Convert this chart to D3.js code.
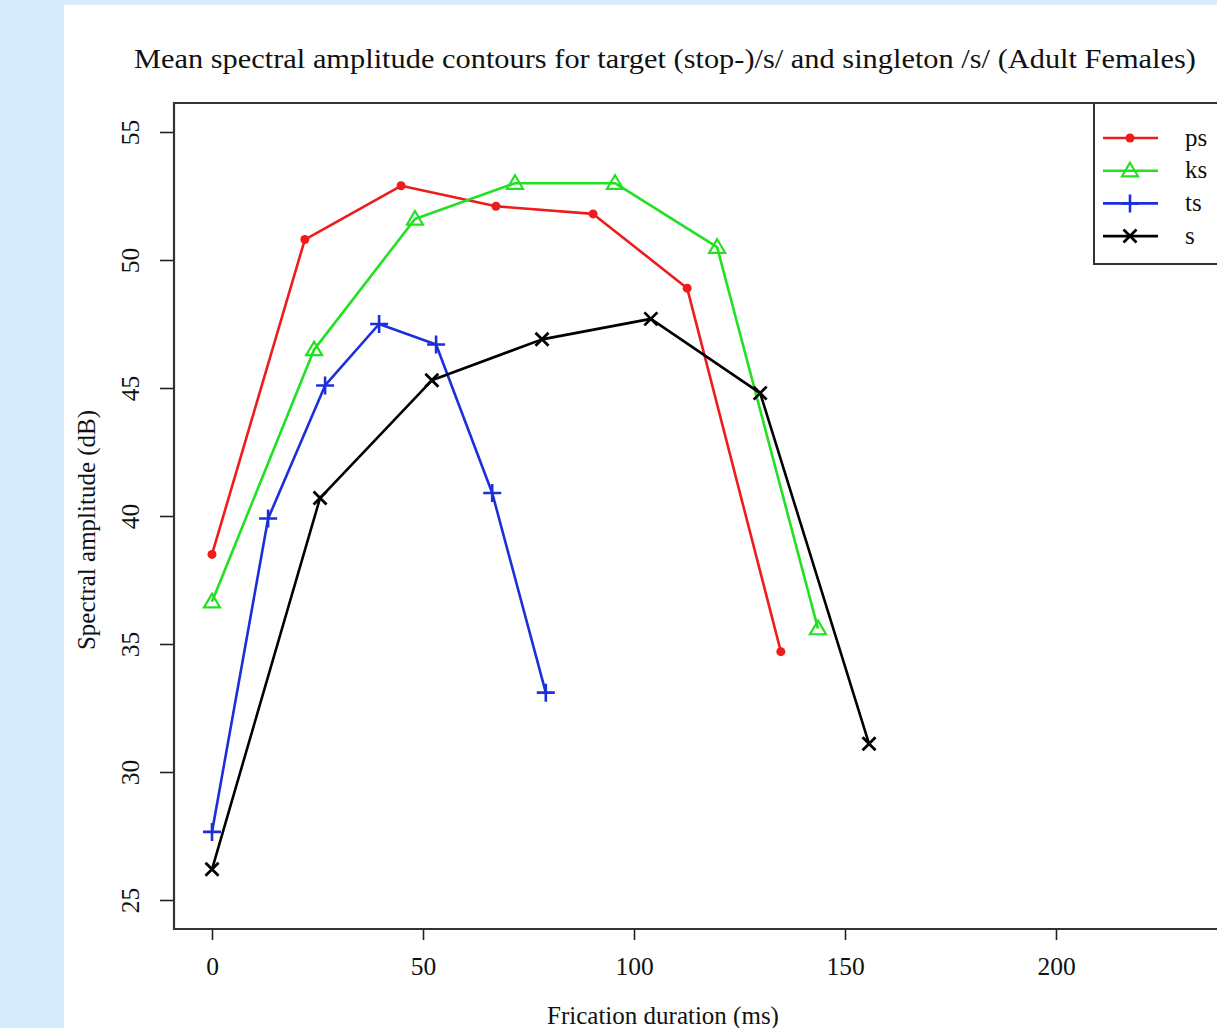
<!DOCTYPE html>
<html>
<head>
<meta charset="utf-8">
<script src="https://cdn.jsdelivr.net/npm/d3@7/dist/d3.min.js"></script>
<style>
  html, body { margin: 0; padding: 0; background: #d7ecfb; }
  svg { display: block; }
  text { font-family: "Liberation Serif", "DejaVu Serif", serif; fill: #111; }
</style>
</head>
<body>
<svg id="chart" width="1217" height="1028"></svg>
<script>
// Frication duration (ms) and mean spectral amplitude (dB) per cluster type
const seriesNames = ["ps", "ks", "ts", "s"];
const psDur = [0, 22, 44.8, 67.3, 90.3, 112.6, 134.8];
const psAmp = [38.5, 50.8, 52.9, 52.1, 51.8, 48.9, 34.7];
const ksDur = [0, 24.2, 48.1, 71.8, 95.5, 119.7, 143.6];
const ksAmp = [36.65, 46.5, 51.6, 53.0, 53.0, 50.5, 35.6];
const tsDur = [0, 13.3, 26.8, 39.6, 53.1, 66.4, 79.1];
const tsAmp = [27.66, 39.9, 45.1, 47.5, 46.7, 40.9, 33.1];
const sDur = [0, 25.6, 52.1, 78.2, 104, 129.9, 155.7];
const sAmp = [26.2, 40.7, 45.3, 46.9, 47.7, 44.8, 31.1];
const xTicks = [0, 50, 100, 150, 200];
const yTicks = [25, 30, 35, 40, 45, 50, 55];

const titleText = "Mean spectral amplitude contours for target (stop-)/s/ and singleton /s/ (Adult Females)";
const xLabel = "Frication duration (ms)";
const yLabel = "Spectral amplitude (dB)";

const series = [
  { name: "ps", color: "#ee1c1c", marker: "dot", dur: psDur, amp: psAmp },
  { name: "ks", color: "#22e022", marker: "triangle", dur: ksDur, amp: ksAmp },
  { name: "ts", color: "#1c2fd8", marker: "plus", dur: tsDur, amp: tsAmp },
  { name: "s", color: "#000000", marker: "cross", dur: sDur, amp: sAmp }
];

const svg = d3.select("#chart");

// white panel
svg.append("rect").attr("x", 64).attr("y", 5).attr("width", 1217 - 64).attr("height", 1028 - 5).attr("fill", "#ffffff");

const box = { left: 174, top: 103, right: 1240, bottom: 929 };

const x = d3.scaleLinear().domain([0, 200]).range([212, 1056]);
const y = d3.scaleLinear().domain([25, 55]).range([900, 132]);

// title
svg.append("text")
  .attr("x", 665).attr("y", 68)
  .attr("text-anchor", "middle")
  .attr("font-size", 26.5)
  .attr("textLength", 1062).attr("lengthAdjust", "spacingAndGlyphs")
  .text(titleText);

// axes
const xAxis = svg.append("g").attr("transform", `translate(0,${box.bottom})`)
  .call(d3.axisBottom(x).tickValues(xTicks).tickSize(11).tickPadding(17).tickFormat(d3.format("d")));
const yAxis = svg.append("g").attr("transform", `translate(${box.left},0)`)
  .call(d3.axisLeft(y).tickValues(yTicks).tickSize(14).tickPadding(6).tickFormat(d3.format("d")));
[xAxis, yAxis].forEach(g => {
  g.select(".domain").remove();
  g.selectAll(".tick line").attr("stroke", "#222").attr("stroke-width", 1.6);
  g.selectAll(".tick text").attr("font-size", 25.5).attr("font-family", "Liberation Serif, serif").attr("fill", "#111");
});
xAxis.selectAll(".tick text").attr("dy", "0.71em");
yAxis.selectAll(".tick text")
  .attr("text-anchor", "middle")
  .attr("transform", `translate(-44,0) rotate(-90)`)
  .attr("x", 0).attr("dy", "0.35em");

// frame
svg.append("path")
  .attr("d", `M${box.right},${box.top}H${box.left}V${box.bottom}H${box.right}`)
  .attr("fill", "none").attr("stroke", "#333").attr("stroke-width", 2.2);

// axis titles
svg.append("text").attr("x", 663).attr("y", 1024)
  .attr("text-anchor", "middle").attr("font-size", 25).text(xLabel);
svg.append("text")
  .attr("transform", `translate(95,530) rotate(-90)`)
  .attr("text-anchor", "middle").attr("font-size", 25).text(yLabel);

// markers
function drawMarker(g, type, cx, cy, color) {
  if (type === "dot") {
    g.append("circle").attr("cx", cx).attr("cy", cy).attr("r", 4.5).attr("fill", color);
  } else if (type === "triangle") {
    const s = 8;
    g.append("path")
      .attr("d", `M${cx},${cy - s}L${cx + s},${cy + s * 0.7}L${cx - s},${cy + s * 0.7}Z`)
      .attr("fill", "none").attr("stroke", color).attr("stroke-width", 2.2);
  } else if (type === "plus") {
    const s = 9;
    g.append("path").attr("d", `M${cx - s},${cy}H${cx + s}M${cx},${cy - s}V${cy + s}`)
      .attr("stroke", color).attr("stroke-width", 2.6);
  } else if (type === "cross") {
    const s = 6.5;
    g.append("path").attr("d", `M${cx - s},${cy - s}L${cx + s},${cy + s}M${cx - s},${cy + s}L${cx + s},${cy - s}`)
      .attr("stroke", color).attr("stroke-width", 2.8);
  }
}

const line = d3.line().x(d => x(d[0])).y(d => y(d[1]));
const plot = svg.append("g");
series.forEach(s => {
  const pts = s.dur.map((d, i) => [d, s.amp[i]]);
  plot.append("path").datum(pts).attr("d", line)
    .attr("fill", "none").attr("stroke", s.color).attr("stroke-width", 2.6)
    .attr("stroke-linejoin", "round");
  pts.forEach(p => drawMarker(plot, s.marker, x(p[0]), y(p[1]), s.color));
});

// legend
const legend = svg.append("g");
legend.append("rect").attr("x", 1094).attr("y", 103).attr("width", 200).attr("height", 161)
  .attr("fill", "#fff").attr("stroke", "#333").attr("stroke-width", 2);
series.forEach((s, i) => {
  const ly = 138 + i * 32.7;
  legend.append("line").attr("x1", 1103).attr("x2", 1158).attr("y1", ly).attr("y2", ly)
    .attr("stroke", s.color).attr("stroke-width", 2.6);
  drawMarker(legend, s.marker, 1130, ly, s.color);
  legend.append("text").attr("x", 1185).attr("y", ly).attr("dy", "0.3em")
    .attr("font-size", 25).text(s.name);
});
</script>
</body>
</html>
